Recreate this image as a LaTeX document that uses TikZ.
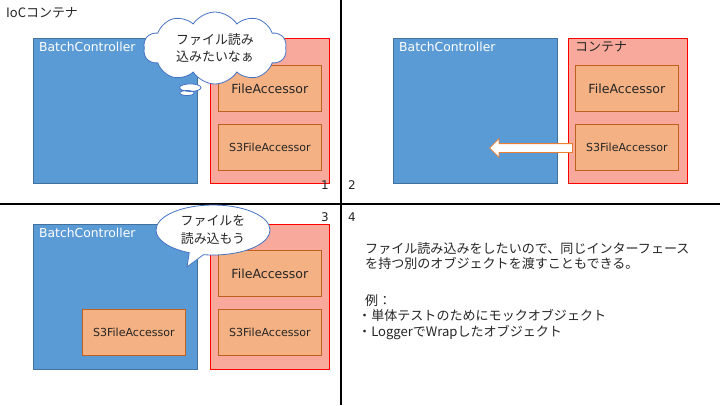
\documentclass[tikz,border=0pt]{standalone}
\usepackage{fontspec}
\setmainfont{Noto Sans CJK JP}
\newfontfamily\latinfont{DejaVu Sans}
\usetikzlibrary{shapes.callouts,shapes.arrows,shapes.symbols}
\definecolor{bcfill}{HTML}{5B9BD5}
\definecolor{bcline}{HTML}{41719C}
\definecolor{ctfill}{HTML}{F9A99C}
\definecolor{ctline}{HTML}{FF0000}
\definecolor{fafill}{HTML}{F4B183}
\definecolor{faline}{HTML}{C0601E}
\definecolor{arline}{HTML}{ED7D31}
\definecolor{callline}{HTML}{4472C4}
\definecolor{txt}{HTML}{262626}
\tikzset{
  bcbox/.style={draw=bcline, fill=bcfill, line width=0.8bp, minimum width=164bp, minimum height=145bp, anchor=north west, inner sep=0},
  ctbox/.style={draw=ctline, fill=ctfill, line width=1bp, minimum width=119bp, minimum height=145bp, anchor=north west, inner sep=0},
  fabox/.style={draw=faline, fill=fafill, line width=0.8bp, minimum width=103bp, minimum height=46bp, anchor=north west, inner sep=0, text=txt},
  bclabel/.style={anchor=west, text=white, font=\latinfont\fontsize{12.4}{13}\selectfont, inner sep=0},
  lbl/.style={anchor=center, text=txt, font=\latinfont\fontsize{12}{14}\selectfont, inner sep=0},
  divider/.style={draw=black, line width=1.2bp},
  bigfa/.style={font=\latinfont\fontsize{12.6}{14}\selectfont},
  smallfa/.style={font=\latinfont\fontsize{11.1}{12}\selectfont},
  calltext/.style={inner sep=0, align=center, text=txt, font=\fontsize{13}{18}\selectfont},
}
\begin{document}
\begin{tikzpicture}[x=1bp,y=-1bp]
\useasboundingbox[fill=white] (0,0) rectangle (720,405);
% dividers
\coordinate (vt) at (341,0);
\coordinate (vb) at (341,405);
\coordinate (hl) at (0,204);
\coordinate (hr) at (720,204);
\draw[divider] (vt) -- (vb);
\draw[divider] (hl) -- (hr);

\node[anchor=west, text=txt, font=\fontsize{13}{14}\selectfont, inner sep=0] (ioc) at (6,13) {IoCコンテナ};

% panel 1
\node[bcbox] (bc1) at (33,38) {};
\node[bclabel] (bc1l) at (39,47) {BatchController};
\node[ctbox] (ct1) at (210,38) {};
\node[fabox, bigfa] (fa1) at (218,65) {FileAccessor};
\node[fabox, smallfa] (s31) at (218,124) {S3FileAccessor};
\node[cloud callout, draw=callline, fill=white, line width=0.8bp, cloud puffs=10, cloud puff arc=115, aspect=2.0,
  minimum width=143bp, minimum height=72bp, calltext, callout absolute pointer={(187,93)}] (cl1) at (215,48) {ファイル読み\\込みたいなぁ};
\node[lbl] (n1) at (325,185) {1};
\node[lbl] (n2) at (352,185) {2};

% panel 2
\node[bcbox] (bc2) at (393,38) {};
\node[bclabel] (bc2l) at (399,47) {BatchController};
\node[ctbox] (ct2) at (568,38) {};
\node[anchor=west, text=txt, font=\fontsize{13}{14}\selectfont, inner sep=0] (ct2l) at (575,47) {コンテナ};
\node[fabox, bigfa] (fa2) at (575,65) {FileAccessor};
\node[fabox, smallfa] (s32) at (575,124) {S3FileAccessor};
\node[single arrow, draw=arline, fill=white, line width=0.8bp, shape border rotate=180,
  minimum height=83bp, single arrow head extend=5bp, single arrow tip angle=90, inner sep=0,
  anchor=tip] (arr) at (489,148) {\rule{0pt}{8bp}};

% panel 3
\node[bcbox] (bc3) at (33,224) {};
\node[bclabel] (bc3l) at (39,233) {BatchController};
\node[ctbox] (ct3) at (210,224) {};
\node[fabox, bigfa] (fa3) at (218,250) {FileAccessor};
\node[fabox, smallfa] (s33) at (218,309) {S3FileAccessor};
\node[fabox, smallfa] (s3b) at (82,309) {S3FileAccessor};
\node[ellipse callout, draw=callline, fill=white, line width=0.8bp, minimum width=114bp, minimum height=50bp,
  calltext, callout absolute pointer={(187,267)}] (cl3) at (213,230) {ファイルを\\読み込もう};
\node[lbl] (n3) at (325,217) {3};
\node[lbl] (n4) at (352,217) {4};

% panel 4
\node[anchor=north west, align=left, text=txt, font=\fontsize{13.1}{15.5}\selectfont, inner sep=0] (t4a) at (365,242)
  {ファイル読み込みをしたいので、同じインターフェース\\を持つ別のオブジェクトを渡すこともできる。};
\node[anchor=north west, align=left, text=txt, font=\fontsize{13.1}{15.5}\selectfont, inner sep=0] (t4b) at (358,294)
  {\hspace{7bp}例：\\・単体テストのためにモックオブジェクト\\・LoggerでWrapしたオブジェクト};
\end{tikzpicture}
\end{document}
